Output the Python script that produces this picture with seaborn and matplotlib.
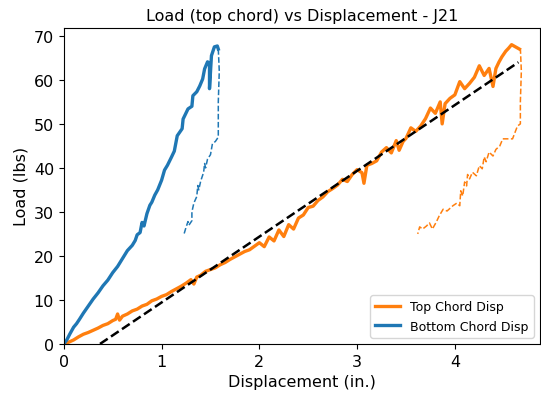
import numpy as np
import pandas as pd
import matplotlib
matplotlib.use("Agg")
import matplotlib.pyplot as plt
import seaborn as sns

# Top chord loading
top_load_x = [0.00, 0.05, 0.10, 0.15, 0.20, 0.25, 0.30, 0.35, 0.40, 0.45, 0.50, 0.53, 0.55, 0.57,
              0.60, 0.65, 0.70, 0.75, 0.80, 0.85, 0.90, 0.95, 1.00, 1.05, 1.10, 1.15, 1.20, 1.25,
              1.30, 1.33, 1.36, 1.40, 1.45, 1.50, 1.55, 1.60, 1.65, 1.70, 1.75, 1.80, 1.85, 1.90,
              1.95, 2.00, 2.05, 2.10, 2.15, 2.20, 2.25, 2.30, 2.35, 2.40, 2.45, 2.50, 2.55, 2.60,
              2.65, 2.70, 2.75, 2.80, 2.85, 2.90, 2.95, 3.00, 3.05, 3.07, 3.10, 3.15, 3.20, 3.25,
              3.30, 3.35, 3.40, 3.43, 3.47, 3.50, 3.55, 3.60, 3.65, 3.70, 3.75, 3.80, 3.85, 3.87,
              3.90, 3.95, 4.00, 4.05, 4.10, 4.15, 4.20, 4.25, 4.30, 4.35, 4.39, 4.42, 4.45, 4.48,
              4.52, 4.55, 4.58, 4.62, 4.66]
top_load_y = [0.0, 0.4, 0.9, 1.6, 2.2, 2.6, 3.1, 3.6, 4.2, 4.6, 5.3, 5.6, 6.8, 5.4,
              6.3, 6.8, 7.5, 7.9, 8.6, 9.0, 9.8, 10.2, 10.8, 11.2, 11.9, 12.5, 13.1, 13.8,
              14.6, 13.6, 15.2, 15.6, 16.5, 16.9, 17.3, 18.0, 18.5, 19.2, 19.8, 20.4, 21.0, 21.4,
              22.2, 23.0, 22.1, 24.3, 23.4, 25.9, 24.4, 27.1, 26.1, 28.6, 29.3, 31.0, 31.3, 32.6,
              33.4, 34.6, 35.3, 36.1, 37.4, 36.9, 38.5, 39.6, 38.9, 36.5, 40.6, 41.0, 41.6, 43.6,
              44.6, 43.4, 46.2, 44.0, 46.0, 46.7, 49.1, 48.3, 49.5, 51.2, 53.6, 52.4, 55.0, 50.0,
              54.6, 55.8, 56.6, 59.6, 58.0, 59.2, 60.6, 63.2, 61.0, 62.6, 58.5, 62.6, 64.0, 65.2,
              66.5, 67.2, 68.0, 67.5, 67.0]

# Top chord unloading
top_unload_x = [4.67, 4.68, 4.67, 4.67, 4.64, 4.59, 4.49, 4.46, 4.42, 4.39, 4.35, 4.32, 4.30, 4.28,
                4.25, 4.22, 4.18, 4.15, 4.13, 4.12, 4.10, 4.08, 4.06, 4.05, 4.02, 3.98, 3.95, 3.92,
                3.88, 3.84, 3.81, 3.77, 3.74, 3.71, 3.67, 3.64, 3.62]
top_unload_y = [67.2, 62.0, 55.0, 50.0, 49.5, 46.6, 46.6, 45.0, 44.2, 42.7, 43.6, 41.4, 42.5, 39.8,
                40.5, 38.2, 39.0, 37.5, 38.5, 35.9, 36.8, 33.6, 34.8, 31.4, 32.0, 31.4, 30.8, 30.2,
                30.6, 29.1, 27.7, 26.1, 27.5, 26.8, 26.1, 26.6, 25.0]

# Bottom chord loading
bot_load_x = [0.00, 0.03, 0.06, 0.10, 0.13, 0.16, 0.20, 0.25, 0.30, 0.35, 0.40, 0.45, 0.50, 0.55,
              0.60, 0.65, 0.70, 0.73, 0.75, 0.78, 0.80, 0.82, 0.85, 0.88, 0.90, 0.93, 0.96, 1.00,
              1.03, 1.06, 1.10, 1.13, 1.16, 1.21, 1.22, 1.27, 1.31, 1.32, 1.36, 1.39, 1.42, 1.44,
              1.47, 1.49, 1.49, 1.51, 1.54, 1.57, 1.58]
bot_load_y = [0.0, 0.9, 2.2, 3.8, 4.6, 5.6, 7.0, 8.6, 10.2, 11.6, 13.2, 14.5, 16.2, 17.6,
              19.4, 21.2, 22.4, 23.5, 24.8, 25.3, 27.6, 26.8, 29.6, 31.5, 32.2, 33.8, 35.0, 37.2,
              39.5, 40.6, 42.4, 43.8, 47.3, 48.9, 51.1, 53.4, 54.0, 56.4, 57.3, 58.6, 60.2, 62.5,
              64.1, 63.8, 58.0, 65.5, 67.5, 67.7, 67.0]

# Bottom chord unloading
bot_unload_x = [1.58, 1.59, 1.58, 1.58, 1.55, 1.52, 1.50, 1.47, 1.45, 1.44, 1.43, 1.40, 1.38, 1.37,
                1.36, 1.33, 1.31, 1.31, 1.28, 1.27, 1.25, 1.23]
bot_unload_y = [67.0, 62.0, 55.0, 47.0, 46.0, 45.5, 43.0, 42.0, 40.0, 41.0, 39.0, 37.0, 35.0, 36.0,
                33.5, 32.0, 30.0, 28.0, 27.0, 27.8, 26.5, 25.0]

# Linear fit reference line
fit_x = [0.37, 4.65]
fit_y = [0.0, 64.0]

orange = "#ff7f0e"
blue = "#1f77b4"

fig = plt.figure(figsize=(5.41, 4.02), dpi=100)
ax = fig.add_axes([0.118, 0.142, 0.880, 0.786])

sns.lineplot(x=top_load_x, y=top_load_y, sort=False, estimator=None, color=orange, lw=2.4,
             label="Top Chord Disp", ax=ax)
sns.lineplot(x=top_unload_x, y=top_unload_y, sort=False, estimator=None, color=orange, lw=1.1,
             linestyle="--", ax=ax, legend=False)
sns.lineplot(x=bot_load_x, y=bot_load_y, sort=False, estimator=None, color=blue, lw=2.4,
             label="Bottom Chord Disp", ax=ax)
sns.lineplot(x=bot_unload_x, y=bot_unload_y, sort=False, estimator=None, color=blue, lw=1.1,
             linestyle="--", ax=ax, legend=False)
sns.lineplot(x=fit_x, y=fit_y, sort=False, estimator=None, color="black", lw=1.8,
             linestyle="--", ax=ax, legend=False)

ax.set_xlim(0, 4.87)
ax.set_ylim(0, 71.8)
ax.set_title("Load (top chord) vs Displacement - J21", fontsize=11.5)
ax.set_xlabel("Displacement (in.)", fontsize=11.5)
ax.set_ylabel("Load (lbs)", fontsize=11.5)
ax.tick_params(labelsize=11.5)
ax.legend(loc="lower right", fontsize=9)

fig.savefig("out.png", dpi=100)
